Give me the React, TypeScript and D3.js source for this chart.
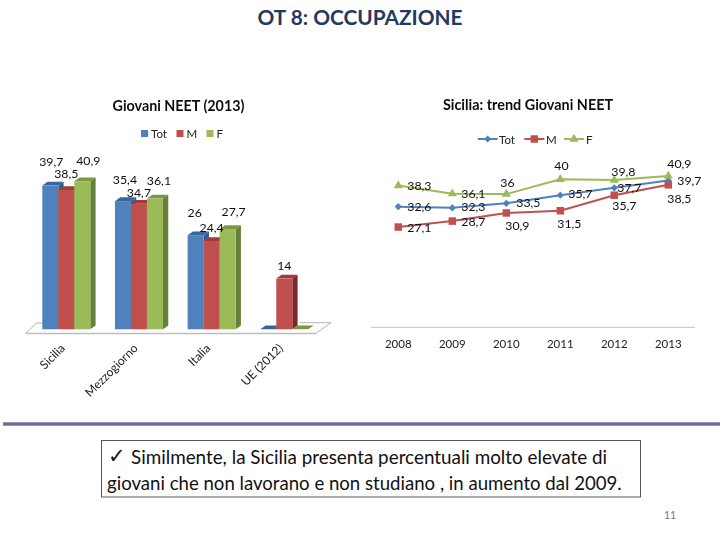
import React from "react";
import * as d3 from "d3";

const FONT = "Lato, Carlito, 'Open Sans', sans-serif";
const series = ["Tot", "M", "F"];
const colors: Record<string, string> = { Tot: "#4f81bd", M: "#c0504d", F: "#9bbb59" };
const topColors: Record<string, string> = { Tot: "#38659b", M: "#a03a37", F: "#7b9642" };
const sideColors: Record<string, string> = { Tot: "#335d8e", M: "#7f2b29", F: "#67803a" };

// Bar chart
const places = ["Sicilia", "Mezzogiorno", "Italia", "UE (2012)"];
const barTot = [39.7, 35.4, 26, null];
const barM = [38.5, 34.7, 24.4, 14];
const barF = [40.9, 36.1, 27.7, null];

// Line chart
const years = ["2008", "2009", "2010", "2011", "2012", "2013"];
const lineTot = [32.6, 32.3, 33.5, 35.7, 37.7, 39.7];
const lineM = [27.1, 28.7, 30.9, 31.5, 35.7, 38.5];
const lineF = [38.3, 36.1, 36, 40, 39.8, 40.9];

// Label nudges, in pixels, relative to each mark
const barNudge: Record<string, [number, number][]> = {
  Tot: [[1, -20], [2, -17], [-1, -18], [0, 0]],
  M: [[0, -12], [0, -7], [0, -9], [0, -9]],
  F: [[6, -16], [4, -14], [6, -13], [0, 0]],
};
const lineNudge: Record<string, [number, number][]> = {
  Tot: [[9, 4], [9, 3], [10, 4], [8, 3], [3, 4], [9, 5]],
  M: [[9, 5], [9, 5], [-1, 17], [-3, 17], [-2, 15], [-1, 18]],
  F: [[9, 4], [9, 4], [-6, -7], [-6, -9], [-3, -4], [-1, -8]],
};

const barData: Record<string, (number | null)[]> = { Tot: barTot, M: barM, F: barF };
const lineData: Record<string, number[]> = { Tot: lineTot, M: lineM, F: lineF };

const DX = 5.3;
const DY = 3.8;

const x0 = d3.scaleBand<string>().domain(places).range([42.3, 308.3]).paddingInner(0.3395).paddingOuter(0);
const x1 = d3.scaleBand<string>().domain(series).range([0, x0.bandwidth()]);
const yBar = d3.scaleLinear().domain([0, 40]).range([329.3, 184.5]);

const xLine = d3.scalePoint<string>().domain(years).range([398.3, 668.3]);
const yLine = d3.scaleLinear().domain([0, 40]).range([327.3, 179.3]);

const fmt = (v: number) => String(v).replace(".", ",");
const lineGen = (vals: number[]) =>
  d3.line<number>().x((_, i) => xLine(years[i])!).y((v) => yLine(v))(vals)!;

const markerPath: Record<string, string> = {
  Tot: d3.symbol(d3.symbolSquare, 26)()!,
  M: d3.symbol(d3.symbolSquare, 56)()!,
  F: d3.symbol(d3.symbolTriangle, 36)()!,
};
const markerRotate: Record<string, number> = { Tot: 45, M: 0, F: 0 };

function Bar({ place, s, i }: { place: string; s: string; i: number }) {
  const v = barData[s][i] ?? 0;
  const x = x0(place)! + x1(s)!;
  const w = x1.bandwidth();
  const top = yBar(v);
  const base = yBar(0);
  return (
    <g>
      <path d={`M${x},${top}L${x + DX},${top - DY}L${x + w + DX},${top - DY}L${x + w},${top}Z`} fill={topColors[s]} />
      {v > 0 && (
        <>
          <path d={`M${x + w},${top}L${x + w + DX},${top - DY}L${x + w + DX},${base - DY}L${x + w},${base}Z`} fill={sideColors[s]} />
          <rect x={x} y={top} width={w} height={base - top} fill={colors[s]} />
        </>
      )}
    </g>
  );
}

export default function App() {
  return (
    <svg
      width={720}
      height={540}
      viewBox="0 0 720 540"
      style={{ position: "absolute", left: 0, top: 0, background: "#fff" }}
      fontFamily={FONT}
    >
      <defs>
        <filter id="soft" x="-5%" y="-5%" width="110%" height="110%">
          <feGaussianBlur stdDeviation="0.35" />
        </filter>
      </defs>
      <text x={360} y={25} textAnchor="middle" fontSize={20.8} fontWeight={700} fill="#1f3a63">OT 8: OCCUPAZIONE</text>

      <g filter="url(#soft)">
        {/* Bar chart */}
        <text x={178.5} y={111} textAnchor="middle" fontSize={14.3} fontWeight={700} fill="#111">Giovani NEET (2013)</text>
        {[["Tot", 141, 151], ["M", 176.5, 186.5], ["F", 206.5, 216.5]].map(([s, sx, tx]) => (
          <g key={s as string}>
            <rect x={sx as number} y={130} width={7} height={7} fill={colors[s as string]} />
            <text x={tx as number} y={138} fontSize={11.5} fill="#222">{s}</text>
          </g>
        ))}
        <path d="M36.7,323L42,323M300,322.7L331,322.7L316,333.3L25.7,333.3L36.7,323" fill="none" stroke="#a9a9a9" strokeWidth={0.9} />
        <path d="M25.7,333.6L316,333.6" stroke="#bdbdbd" strokeWidth={1.2} />
        {places.map((p, i) => (
          <g key={p}>
            {series.map((s) => <Bar key={s} place={p} s={s} i={i} />)}
          </g>
        ))}
        {places.map((p, i) =>
          series.map((s) => {
            const v = barData[s][i];
            if (v == null) return null;
            const [dx, dy] = barNudge[s][i];
            return (
              <text key={p + s} x={x0(p)! + x1(s)! + x1.bandwidth() / 2 + dx} y={yBar(v) + dy} textAnchor="middle" fontSize={12.3} fill="#111">
                {fmt(v)}
              </text>
            );
          })
        )}
        {places.map((p) => {
          const ex = x0(p)! + 23.5;
          return (
            <text key={p} transform={`translate(${ex},349) rotate(-45)`} textAnchor="end" fontSize={12} fill="#222">{p}</text>
          );
        })}

        {/* Line chart */}
        <text x={528} y={110} textAnchor="middle" fontSize={14.4} fontWeight={700} fill="#111">Sicilia: trend Giovani NEET</text>
        {[["Tot", 477.7, 499], ["M", 524.3, 546], ["F", 564, 586]].map(([s, lx, tx]) => (
          <g key={s as string}>
            <line x1={lx as number} x2={(lx as number) + 20} y1={139} y2={139} stroke={colors[s as string]} strokeWidth={2} />
            <path d={markerPath[s as string]} transform={`translate(${(lx as number) + 10},139) rotate(${markerRotate[s as string]})`} fill={colors[s as string]} />
            <text x={tx as number} y={143.5} fontSize={11.5} fill="#222">{s}</text>
          </g>
        ))}
        <line x1={371} x2={695} y1={327.3} y2={327.3} stroke="#c4c4c4" strokeWidth={1} />
        {years.map((yr) => (
          <text key={yr} x={xLine(yr)} y={348} textAnchor="middle" fontSize={11.5} fill="#222">{yr}</text>
        ))}
        {series.map((s) => (
          <g key={s}>
            <path d={lineGen(lineData[s])} fill="none" stroke={colors[s]} strokeWidth={2} />
            {lineData[s].map((v, i) => (
              <path key={i} d={markerPath[s]} transform={`translate(${xLine(years[i])},${yLine(v)}) rotate(${markerRotate[s]})`} fill={colors[s]} />
            ))}
          </g>
        ))}
        {series.map((s) =>
          lineData[s].map((v, i) => {
            const [dx, dy] = lineNudge[s][i];
            return (
              <text key={s + i} x={xLine(years[i])! + dx} y={yLine(v) + dy} fontSize={12.3} fill="#111">
                {fmt(v)}
              </text>
            );
          })
        )}
      </g>

      {/* Footer */}
      <line x1={3} x2={720} y1={424} y2={424} stroke="#7b6a97" strokeWidth={3.5} />
      <rect x={101.5} y={440.5} width={539} height={56.5} fill="#fff" stroke="#555" strokeWidth={1} />
      <text x={108} y={463} fontSize={21} fontFamily="'DejaVu Sans'" fontWeight={700} fill="#111">✓</text>
      <text x={131} y={464} fontSize={18.85} fill="#111">Similmente, la Sicilia presenta percentuali molto elevate di</text>
      <text x={107} y={490} fontSize={18.6} fill="#111">giovani che non lavorano e non studiano , in aumento dal 2009.</text>
      <text x={670} y={519} textAnchor="middle" fontSize={10.5} fill="#777">11</text>
    </svg>
  );
}
